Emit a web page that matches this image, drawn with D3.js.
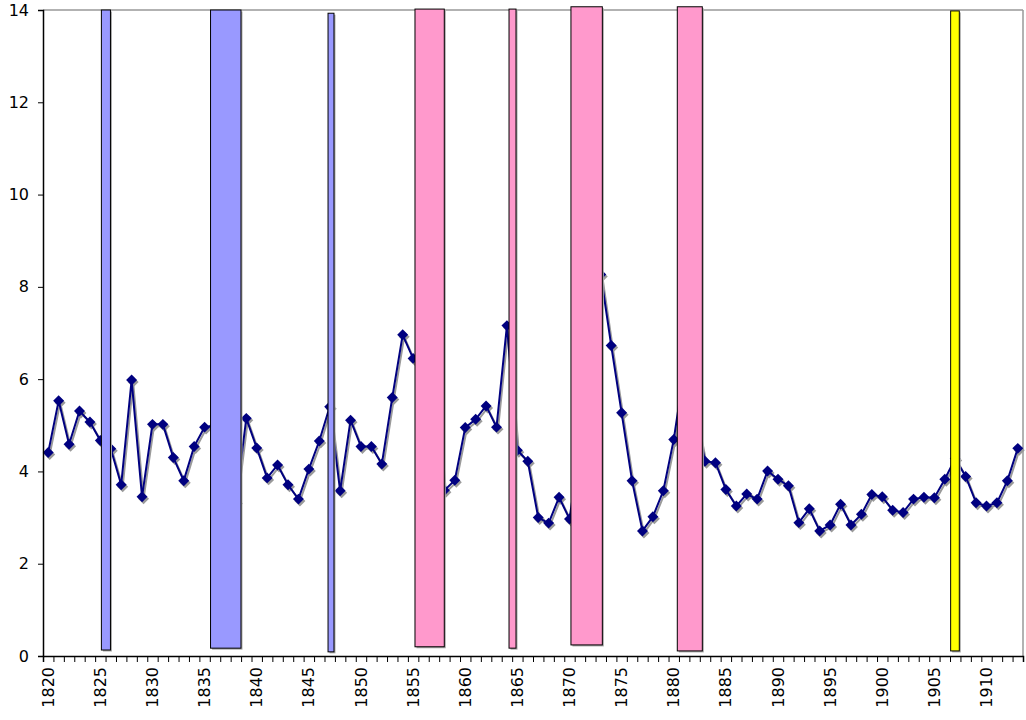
<!DOCTYPE html>
<html>
<head>
<meta charset="utf-8">
<script src="https://cdn.jsdelivr.net/npm/d3@7"></script>
<style>
  html, body { margin: 0; padding: 0; background: #fff; }
  svg { display: block; font-family: "DejaVu Sans", Verdana, sans-serif; }
</style>
</head>
<body>
<svg id="chart" width="1026" height="720"></svg>
<script>
// ---- data ----
const years = d3.range(1820, 1914);
const values = [
  4.41, 5.53, 4.59, 5.31, 5.07, 4.67, 4.49, 3.71, 5.98, 3.45,
  5.02, 5.02, 4.30, 3.80, 4.54, 4.96, 5.00, 4.40, 3.35, 5.15,
  4.51, 3.86, 4.14, 3.71, 3.40, 4.05, 4.66, 5.40, 3.58, 5.11,
  4.54, 4.54, 4.16, 5.60, 6.96, 6.45, 6.60, 6.30, 3.59, 3.81,
  4.95, 5.13, 5.42, 4.96, 7.16, 4.46, 4.22, 3.00, 2.88, 3.44,
  2.97, 4.50, 7.00, 8.27, 6.73, 5.27, 3.80, 2.71, 3.02, 3.58,
  4.69, 6.20, 5.35, 4.22, 4.19, 3.61, 3.25, 3.51, 3.40, 4.01,
  3.83, 3.69, 2.89, 3.19, 2.71, 2.84, 3.29, 2.84, 3.07, 3.50,
  3.45, 3.16, 3.11, 3.40, 3.44, 3.43, 3.83, 4.28, 3.89, 3.32,
  3.25, 3.32, 3.80, 4.50
];
const yTicks = [0, 2, 4, 6, 8, 10, 12, 14];
const xLabelYears = d3.range(1820, 1914, 5);

// shaded periods (start year, end year, bottom value, top value, kind)
const periodStart = [1825.10, 1835.57, 1846.84, 1855.18, 1864.20, 1870.14, 1880.34, 1906.56];
const periodEnd   = [1825.97, 1838.49, 1847.41, 1857.99, 1864.87, 1873.15, 1882.74, 1907.39];
const periodLow   = [0.13, 0.17, 0.09, 0.20, 0.17, 0.24, 0.11, 0.11];
const periodHigh  = [14.00, 14.00, 13.93, 14.02, 14.02, 14.07, 14.07, 13.98];
const periodKind  = ["blue", "blue", "blue", "pink", "pink", "pink", "pink", "yellow"];
const kindColor = { blue: "#9999FF", pink: "#FF99CC", yellow: "#FFFF00" };

// ---- layout ----
const L = 43, R = 1023, T = 10, B = 656;
const svg = d3.select("#chart");

const xBand = d3.scaleBand().domain(years).range([L, R]).padding(0);
const xLin = d3.scaleLinear().domain([1819.5, 1913.5]).range([L, R]);
const y = d3.scaleLinear().domain([0, 14]).range([B, T]);

// plot border (top / right gray)
svg.append("line").attr("x1", L).attr("x2", R).attr("y1", T).attr("y2", T)
  .attr("stroke", "#999").attr("stroke-width", 1.5);
svg.append("line").attr("x1", R).attr("x2", R).attr("y1", T).attr("y2", B)
  .attr("stroke", "#999").attr("stroke-width", 1.5);

// line + markers
const pts = years.map((yr, i) => ({ yr, v: values[i] }));
const cx = d => xBand(d.yr) + xBand.bandwidth() / 2;
const line = d3.line().x(cx).y(d => y(d.v));
const marker = d3.symbol().type(d3.symbolSquare).size(60);

const shadow = svg.append("g").attr("transform", "translate(1.5,2)");
shadow.append("path").datum(pts).attr("d", line)
  .attr("fill", "none").attr("stroke", "#9a9a9a").attr("stroke-width", 2);
shadow.selectAll("path.m").data(pts).join("path").attr("class", "m")
  .attr("d", marker)
  .attr("transform", d => `translate(${cx(d)},${y(d.v)}) rotate(45)`)
  .attr("fill", "#9a9a9a");

svg.append("path").datum(pts).attr("d", line)
  .attr("fill", "none").attr("stroke", "#000080").attr("stroke-width", 2);
svg.selectAll("path.mk").data(pts).join("path").attr("class", "mk")
  .attr("d", marker)
  .attr("transform", d => `translate(${cx(d)},${y(d.v)}) rotate(45)`)
  .attr("fill", "#000080");

// shaded period bars
const periods = periodStart.map((s, i) => ({
  s, e: periodEnd[i], lo: periodLow[i], hi: periodHigh[i], kind: periodKind[i]
}));
const pg = svg.append("g");
pg.selectAll("rect.sh").data(periods).join("rect").attr("class", "sh")
  .attr("x", d => xLin(d.s) + 1.5).attr("y", d => y(d.hi) + 1.5)
  .attr("width", d => xLin(d.e) - xLin(d.s)).attr("height", d => y(d.lo) - y(d.hi))
  .attr("fill", "#a8a8a8");
pg.selectAll("rect.bar").data(periods).join("rect").attr("class", "bar")
  .attr("x", d => xLin(d.s)).attr("y", d => y(d.hi))
  .attr("width", d => xLin(d.e) - xLin(d.s)).attr("height", d => y(d.lo) - y(d.hi))
  .attr("fill", d => kindColor[d.kind]).attr("stroke", "#000").attr("stroke-width", 1);

// y axis
const yAxis = svg.append("g").attr("transform", `translate(${L},0)`)
  .call(d3.axisLeft(y).tickValues(yTicks).tickSize(5).tickPadding(9).tickFormat(d3.format("d")));
yAxis.select(".domain").attr("stroke", "#000").attr("stroke-width", 1.5);
yAxis.selectAll(".tick line").attr("stroke", "#000");
yAxis.selectAll("text").attr("font-size", 16).attr("font-family", "DejaVu Sans, Verdana, sans-serif").attr("fill", "#000");

// x axis: boundary ticks
const xTickAxis = svg.append("g").attr("transform", `translate(0,${B})`)
  .call(d3.axisBottom(xLin).tickValues(d3.range(1819.5, 1914, 1)).tickSize(6).tickFormat(""));
xTickAxis.select(".domain").attr("stroke", "#000").attr("stroke-width", 1.5);
xTickAxis.selectAll(".tick line").attr("stroke", "#000");

// x axis labels (rotated)
const xLabAxis = svg.append("g").attr("transform", `translate(0,${B})`)
  .call(d3.axisBottom(xBand).tickValues(xLabelYears).tickSize(0).tickFormat(d3.format("d")));
xLabAxis.select(".domain").remove();
xLabAxis.selectAll("text")
  .attr("font-size", 16).attr("font-family", "DejaVu Sans, Verdana, sans-serif").attr("fill", "#000")
  .attr("transform", "rotate(-90)")
  .attr("text-anchor", "end")
  .attr("dy", "0.35em").attr("x", -11).attr("y", 0);
</script>
</body>
</html>
